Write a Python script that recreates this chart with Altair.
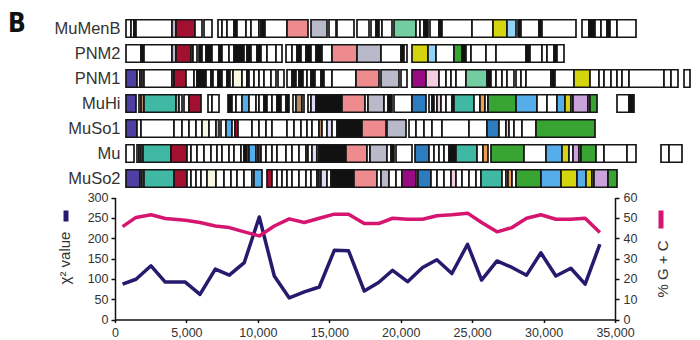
import altair as alt
import pandas as pd

FONT = "Liberation Sans, Arial, sans-serif"
NAVY = "#241a6e"
MAGENTA = "#d5156f"

# ---------------- genome maps (positions in kb, contiguous groups of genes) ----------------
ROW_NAMES = ["MuMenB", "PNM2", "PNM1", "MuHi", "MuSo1", "Mu", "MuSo2"]

MUMENB = [
    ([0.77, 1.12, 1.33, 1.47, 3.99, 4.27, 5.60, 6.09], "wwkwgrw"),
    ([6.23, 6.79], "w"),
    ([7.21, 7.49, 7.84, 8.33, 8.54, 9.17, 9.52, 10.08, 10.22, 10.50, 12.04, 13.51], "wwwkwwwwkwp"),
    ([13.72, 14.84], "g"),
    ([14.98, 15.47], "w"),
    ([15.54, 16.73], "w"),
    ([16.94, 17.78], "w"),
    ([17.92, 18.27, 18.48, 18.69, 19.39], "wkww"),
    ([19.53, 21.07, 21.35, 21.63, 21.91], "mwwk"),
    ([22.05, 22.68, 22.89, 24.99, 26.46, 27.44, 28.07], "wkwwya"),
    ([28.21, 28.42, 29.68, 29.89, 32.27], "kwkw"),
    ([32.69, 33.18, 33.60, 34.02, 34.44, 34.65, 35.14, 36.47], "wkwwkww"),
]

PNM2 = [
    ([0.77, 1.82, 2.03, 3.99, 4.27, 5.32, 5.46, 5.74], "wkwgrgw"),
    ([5.88, 6.09, 6.37, 6.79, 7.28, 7.49, 7.98, 8.33, 9.03, 9.24, 9.52, 9.94, 10.22, 10.64, 11.27, 11.69],
     "kwkwkwwkwkwkwww"),
    ([11.97, 12.39, 12.74, 13.02, 13.37, 13.72, 14.07, 14.49, 15.19, 16.94, 18.62, 20.02, 20.23, 20.44],
     "wwkwkwkwpgwkw"),
    ([20.79, 21.91, 22.47, 23.73, 24.29, 24.57, 24.92, 25.97, 26.67, 28.77, 29.05, 29.89, 30.24, 30.73,
      30.94, 31.43], "yawGkwwwwkwwwkw"),
]

PNM1 = [
    ([0.77, 1.54, 1.75, 1.89, 2.03, 3.99, 4.13, 4.97, 5.53, 5.74, 6.37, 6.72, 6.86, 7.21, 7.49, 7.84, 8.05,
      8.26, 8.89, 9.24, 9.38, 9.73, 10.08, 10.43, 10.92, 11.27], "vwpwwgrwwkwkwkwkwcwkwwwww"),
    ([11.41, 11.83], "w"),
    ([12.04, 12.39, 12.67, 12.88, 13.16, 13.44, 13.72, 14.00, 14.42, 14.63, 15.19, 16.87, 18.48], "wkwkwwkwkwwp"),
    ([18.62, 19.88], "g"),
    ([20.02, 20.44], "w"),
    ([20.79, 21.77, 22.68, 23.17, 23.52, 23.87, 24.57, 26.04, 26.32, 26.67, 27.09, 27.44, 27.93], "Mlwwwwmkwwww"),
    ([28.07, 28.42, 28.77, 30.52, 30.80, 32.13, 33.25, 33.88, 34.23, 34.72, 35.14, 35.49, 35.98, 38.43,
      38.92, 39.41], "wwwkwywwwwwwwww"),
    ([39.83, 40.25], "w"),
]

MUHI = [
    ([0.77, 1.47], "v"),
    ([1.68, 1.82, 2.03, 4.27, 4.48, 4.69], "wntgw"),
    ([4.83, 5.18, 6.02], "wr"),
    ([6.51, 6.79, 7.28], "ww"),
    ([7.91, 8.19, 8.47, 8.89, 9.38, 9.87, 10.08, 10.43, 10.64, 10.99, 11.34, 11.62, 11.97, 12.18], "kwwbwwwkwwkwk"),
    ([12.46, 12.67, 13.09, 13.23], "wnw"),
    ([13.51, 13.72, 14.07, 15.89, 17.50, 17.71, 18.83, 19.11, 19.39], "wskpwgwk"),
    ([19.53, 20.79, 21.77], "wB"),
    ([21.98, 22.19, 22.33, 22.54, 22.82, 23.17, 23.59, 23.73, 25.13, 25.55, 25.90, 26.11, 28.07, 29.54,
      30.24, 30.94, 31.50, 31.92, 32.06, 33.11, 33.25, 33.74], "wkwlwwktwowGbwwbywLwG"),
    ([35.14, 35.98, 36.33], "wk"),
]

MUSO1 = [
    ([0.77, 1.54, 1.82, 4.13, 4.69, 5.18, 5.67, 6.09, 6.58, 7.07, 7.28], "vwwwwwwcwg"),
    ([7.42, 7.77, 8.19, 8.40, 8.61, 9.59, 10.08, 10.57, 10.99, 12.04, 12.53, 13.02, 13.44, 13.79, 14.28,
      14.49, 14.84, 15.19, 15.54, 17.29, 18.97], "wbwrwwwwwwwwwwnwswkp"),
    ([19.04, 20.37], "g"),
    ([20.58, 21.07, 21.63, 22.19, 22.89, 24.78, 26.04, 26.88, 27.37, 27.58, 27.93, 28.49, 29.47, 33.60],
     "wwwwwwBwlwwwG"),
]

MU = [
    ([0.77, 1.33], "w"),
    ([1.54, 1.68, 1.82, 1.96, 3.92, 5.04, 5.32, 5.74, 6.23, 6.72, 7.14, 7.49, 7.98, 8.33, 8.82, 9.03, 9.24,
      9.38, 9.87, 10.01, 10.22, 10.57, 10.99, 11.34, 11.97, 12.39, 12.88, 13.37, 13.51, 13.79, 14.14, 14.28,
      16.17, 17.64, 17.85, 19.04, 19.32, 19.53], "wnwtrwwwwwwwwwwkwbwrwwwwwwwnwswkpwgwk"),
    ([19.67, 20.79], "w"),
    ([21.00, 21.98, 22.33, 22.68, 23.03, 23.38, 23.87, 25.34, 25.76, 26.11], "Bwwwwktwo"),
    ([26.32, 28.63, 30.17, 31.29, 31.78, 32.06, 32.48, 32.62, 33.67, 34.23, 35.84, 36.47], "GwbywLwGwww"),
    ([38.22, 38.78, 39.69], "ww"),
]

MUSO2 = [
    ([0.77, 1.75, 1.89, 2.03, 4.13, 5.04, 5.32, 5.67, 6.02, 6.44, 7.07, 7.63, 8.12, 8.54, 9.03, 9.59, 9.73,
      10.29], "vnwtrwwwwcwwwwwwb"),
    ([10.64, 10.99, 11.34, 11.69, 12.04, 12.39, 12.88, 13.37, 13.72, 14.14, 14.28, 14.42, 14.84, 15.12,
      16.73, 18.34, 18.62, 19.18, 19.67, 20.09, 21.07, 21.21, 22.12, 22.54, 23.03, 23.52, 23.87, 24.29,
      24.78, 25.27, 25.62, 27.09, 27.37, 27.51, 27.79, 28.07, 29.82, 31.22, 32.34, 32.97, 33.39, 33.53,
      34.51, 35.14], "rwwwwwwwwnwswkpwgwwMwBwwwlwwwwtwwowGbybywLG"),
]

GENE_CODES = ["w", "k", "r", "p", "g", "m", "t", "y", "a", "b", "B", "G", "M", "l", "L", "o", "n", "c", "s", "v"]
GENE_COLORS = ["#ffffff", "#111111", "#a3102f", "#ee8b8f", "#b9bac9", "#72cda1", "#3fb9a4", "#d5d50f",
               "#92d2f5", "#55aeea", "#2d7cbf", "#38a532", "#990b83", "#f6cde0", "#c9a3d9", "#eda04f",
               "#b38b62", "#f8f8e2", "#dcdcf2", "#4e3fa2"]

# ---------------- sliding-window statistics ----------------
POSITIONS = [530, 1470, 2520, 3520, 4920, 5950, 7020, 8000, 9050, 10100, 11150, 12200, 13250, 14300,
             15350, 16350, 17450, 18450, 19430, 20480, 21530, 22530, 23580, 24680, 25660, 26740, 27790,
             28810, 29810, 30860, 31910, 32910, 33940]
CHI2 = [87, 99, 132, 92, 92, 62, 124, 109, 140, 252, 107, 53, 68, 80, 170, 169, 70, 91, 121, 93, 128, 147,
        113, 185, 97, 144, 128, 109, 164, 107, 126, 87, 185]
GC = [45.7, 50.2, 51.5, 49.7, 48.8, 47.7, 46.0, 45.2, 43.1, 41.1, 46.0, 49.5, 47.7, 49.8, 51.8, 51.8, 47.2,
      47.2, 49.8, 49.3, 49.3, 51.0, 51.5, 52.3, 47.7, 43.1, 45.2, 49.8, 51.5, 49.3, 49.3, 49.8, 42.8]

X_TICKS = [0, 5000, 10000, 15000, 20000, 25000, 30000, 35000]
CHI_TICKS = [0, 50, 100, 150, 200, 250, 300]
GC_TICKS = [0, 10, 20, 30, 40, 50, 60]

# ---------------- tables ----------------
ALL_ROWS = [MUMENB, PNM2, PNM1, MUHI, MUSO1, MU, MUSO2]
records = []
for name, groups in zip(ROW_NAMES, ALL_ROWS):
    for edges, codes in groups:
        n = min(len(codes), len(edges) - 1)
        for i in range(n):
            records.append({"row": name, "start": edges[i], "end": edges[i + 1], "code": codes[i]})
genes_df = pd.DataFrame(records)
line_df = pd.DataFrame({"pos": POSITIONS, "chi": CHI2, "gc": GC})
one_df = pd.DataFrame({"k": [0]})

# ---------------- layout (pixels) ----------------
MAP_W = 575
LINE_W = 500
H = 303.5
MAP_H = 175
LINE_TOP = 181.5

axis_common = dict(grid=False, domainColor="#111111", tickColor="#111111", domainWidth=1.5, tickWidth=1.5,
                   labelFont=FONT, labelFontSize=12.5, labelColor="#333333", labelOverlap=False,
                   titleFont=FONT, titleFontSize=15, titleFontWeight="normal", titleColor="#333333")

genes = alt.Chart(genes_df).mark_rect(stroke="#161616", strokeWidth=1.7).encode(
    x=alt.X("start:Q", scale=alt.Scale(domain=[0, 40.25], nice=False, zero=False), axis=None),
    x2="end:Q",
    y=alt.Y("row:N", sort=ROW_NAMES,
            scale=alt.Scale(range=[0, MAP_H], paddingInner=0.3, paddingOuter=0.15),
            axis=alt.Axis(title=None, orient="left", domain=False, ticks=False, tickSize=0, labelPadding=0,
                          offset=-5, grid=False, labelFont=FONT, labelFontSize=16.5, labelColor="#333333")),
    fill=alt.Fill("code:N", scale=alt.Scale(domain=GENE_CODES, range=GENE_COLORS), legend=None),
)

x_scale = alt.Scale(domain=[0, 35000], range=[0, LINE_W], nice=False, zero=False)

chi_line = alt.Chart(line_df).mark_line(color=NAVY, strokeWidth=3.5, strokeJoin="round").encode(
    x=alt.X("pos:Q", scale=x_scale,
            axis=alt.Axis(orient="bottom", values=X_TICKS, format=",d", title=None, tickSize=3,
                          labelPadding=3.5, labelFlush=False, **axis_common)),
    y=alt.Y("chi:Q", scale=alt.Scale(domain=[0, 300], range=[H, LINE_TOP], nice=False),
            axis=alt.Axis(orient="left", values=CHI_TICKS, title="χ² value", tickSize=4, labelPadding=3,
                          titleAngle=270, titleX=-51, titleY=241.5, titleAlign="center",
                          titleBaseline="middle", **axis_common)),
)

gc_line = alt.Chart(line_df).mark_line(color=MAGENTA, strokeWidth=3.5, strokeJoin="round").encode(
    x=alt.X("pos:Q", scale=x_scale, axis=None),
    y=alt.Y("gc:Q", scale=alt.Scale(domain=[0, 60], range=[H, LINE_TOP], nice=False),
            axis=alt.Axis(orient="right", offset=-75, values=GC_TICKS, title="% G + C", tickSize=4,
                          labelPadding=4, titleAngle=270, titleX=47, titleY=252.5, titleAlign="center",
                          titleBaseline="middle", **axis_common)),
)

chi_key = alt.Chart(one_df).mark_rule(color=NAVY, strokeWidth=5).encode(
    x=alt.value(-49), y=alt.value(194.5), y2=alt.value(205.5))
gc_key = alt.Chart(one_df).mark_rule(color=MAGENTA, strokeWidth=5).encode(
    x=alt.value(546), y=alt.value(194.5), y2=alt.value(212.5))

panel = alt.Chart(one_df).mark_text(
    text="B", font="Liberation Sans Narrow, DejaVu Sans Condensed, Liberation Sans", fontWeight="bold",
    fontSize=26, align="left", baseline="top", color="#111111").encode(
    x=alt.value(-107), y=alt.value(-5))

chart = alt.layer(genes, chi_line, gc_line, chi_key, gc_key, panel).resolve_scale(
    x="independent", y="independent"
).properties(
    width=MAP_W, height=H, padding={"left": 0, "top": 3, "right": 0, "bottom": 0}
).configure_view(stroke=None)

chart.save("out.html", embed_options={"renderer": "svg", "actions": False})
